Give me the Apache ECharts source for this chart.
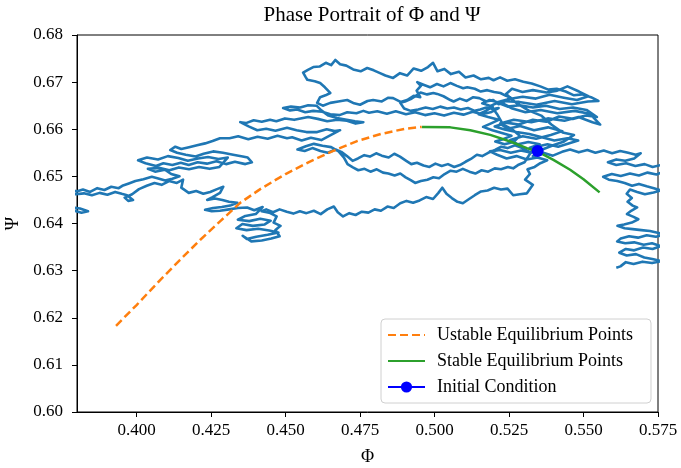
<!DOCTYPE html>
<html><head><meta charset="utf-8">
<script src="https://cdn.jsdelivr.net/npm/echarts@6/dist/echarts.min.js"></script>
<style>html,body{margin:0;padding:0;background:#fff}#c{width:681px;height:468px}</style>
</head><body><div id="c"></div>
<script>
const xTicks = [0.400, 0.425, 0.450, 0.475, 0.500, 0.525, 0.550, 0.575];
const yTicks = [0.60, 0.61, 0.62, 0.63, 0.64, 0.65, 0.66, 0.67, 0.68];
const unstablePhi = [0.3931,0.4000,0.4079,0.4146,0.4213,0.4281,0.4348,0.4415,0.4500,0.4580,0.4660,0.4740,0.4820,0.4900,0.4957];
const unstablePsi = [0.6183,0.6227,0.6280,0.6323,0.6365,0.6405,0.6444,0.6473,0.6505,0.6531,0.6554,0.6575,0.6590,0.6601,0.6605];
const stablePhi = [0.4958,0.5053,0.5120,0.5187,0.5254,0.5310,0.5348,0.5399,0.5455,0.5500,0.5554];
const stablePsi = [0.6605,0.6604,0.6598,0.6588,0.6574,0.6560,0.6552,0.6535,0.6514,0.6494,0.6466];
const initPhi = 0.5346;
const initPsi = 0.6554;
// trajectory (Phi, Psi) in thousandths
const walkMilli = [
[534.6,655.4],[532.0,656.1],[535.3,656.8],[531.5,657.3],[528.0,656.8],[525.4,657.7],[529.6,658.5],[534.1,658.0],[539.0,658.8],[542.9,659.6],
[538.1,660.4],[533.4,659.8],[528.7,660.7],[524.6,660.1],[522.0,661.2],[526.6,662.0],[532.5,661.5],[538.0,662.3],[543.6,661.8],[548.3,662.6],
[553.0,661.5],[555.6,661.0],[552.1,663.3],[547.0,663.9],[541.2,663.4],[535.6,664.1],[530.5,663.6],[526.1,664.4],[523.4,665.3],[518.5,666.2],
[516.0,665.5],[519.5,664.8],[517.2,663.9],[514.8,663.2],[518.0,662.6],[521.5,662.0],[518.8,661.2],[516.3,660.5],[519.4,659.8],[522.6,659.2],
[525.8,658.6],[523.0,657.9],[520.4,657.4],[523.5,656.8],[526.5,657.3],[528.6,658.6],[526.0,660.0],[523.0,661.0],[521.0,663.2],[519.0,665.0],
[522.5,666.0],[528.4,665.8],[534.2,665.2],[540.3,666.0],[546.1,665.3],[551.5,665.9],[555.0,666.0],[552.5,666.8],[549.5,667.4],[546.8,667.2],
[544.0,668.0],[541.0,668.6],[538.2,668.4],[535.5,669.1],[532.6,669.7],[529.8,670.1],[527.0,670.6],[524.4,670.3],[522.0,671.0],[519.8,670.4],
[518.2,670.9],[515.6,670.6],[513.1,671.4],[510.4,671.0],[508.2,672.2],[505.5,671.7],[503.3,672.8],[501.0,672.3],[499.5,674.1],[497.8,673.2],
[495.5,672.4],[493.0,672.9],[490.8,671.4],[488.4,671.9],[486.1,670.9],[483.5,671.4],[481.7,671.9],[479.6,672.5],[477.4,673.0],[475.2,672.3],
[472.7,672.7],[470.4,673.5],[468.3,673.8],[466.7,674.7],[465.3,673.6],[463.5,674.1],[461.4,673.3],[459.3,673.2],[457.5,672.6],[455.9,672.0],
[456.8,671.0],[457.3,670.5],[459.8,670.2],[461.6,669.8],[463.2,668.9],[465.0,667.7],[463.4,667.2],[461.6,666.8],[460.6,665.6],[462.5,665.0],
[465.0,665.6],[467.7,665.9],[470.7,666.2],[473.0,665.5],[475.0,665.2],[477.5,666.0],[479.4,666.2],[482.3,665.9],[484.5,666.7],[486.1,666.6],
[488.6,665.8],[490.8,666.2],[493.0,667.1],[495.2,666.8],[494.0,668.2],[495.4,669.2],[494.2,670.0],[496.5,669.4],[498.5,668.9],[500.8,669.6],
[503.0,669.1],[505.3,669.8],[507.5,669.2],[509.6,668.7],[511.0,668.9],[513.5,668.6],[515.5,668.0],[517.7,668.3],[520.0,667.9],[522.1,667.7],
[524.0,667.1],[525.4,666.8],[523.8,666.0],[521.5,665.3],[519.7,666.2],[517.4,665.9],[515.0,666.6],[513.0,666.8],[510.8,666.0],[508.5,666.5],
[506.4,665.9],[505.3,666.2],[503.0,667.0],[500.9,667.5],[499.6,667.7],[497.5,667.4],[495.3,667.8],[494.2,667.3],[492.0,666.4],[490.1,665.9],
[488.5,665.6],[489.8,664.4],[492.0,663.9],[494.5,664.2],[497.0,664.6],[499.4,664.3],[501.9,664.8],[504.3,664.4],[506.5,664.6],[508.8,664.2],
[511.2,664.5],[513.5,663.9],[515.3,664.2],[517.4,664.6],[519.6,664.3],[521.5,664.5],[518.8,663.6],[515.9,663.2],[512.8,663.7],[509.7,663.1],
[506.5,663.5],[503.2,662.9],[500.0,663.4],[496.8,663.0],[493.5,663.6],[490.4,663.2],[487.0,663.8],[484.0,663.3],[480.8,663.8],[478.0,663.5],
[476.1,663.9],[473.8,663.4],[470.7,663.6],[468.1,663.0],[465.0,663.2],[462.3,663.7],[459.3,663.9],[456.6,663.6],[453.9,664.2],[451.5,664.0],
[449.2,664.5],[451.8,664.8],[454.9,664.6],[457.6,665.1],[460.4,665.0],[462.0,664.0],[464.4,662.9],[467.2,662.4],[470.5,662.0],[473.3,661.7],
[476.1,661.5],[473.5,661.2],[470.6,661.8],[467.3,662.0],[464.0,661.7],[460.8,662.2],[457.6,662.6],[455.9,662.4],[452.9,662.0],[449.8,662.3],
[446.9,661.7],[444.8,662.0],[442.0,661.6],[439.3,661.9],[436.7,661.3],[434.8,661.5],[437.6,660.6],[440.5,659.8],[443.5,660.1],[446.6,659.7],
[450.5,660.3],[453.7,659.8],[457.0,659.4],[460.6,659.4],[463.8,660.0],[466.5,659.6],[468.3,659.8],[465.6,658.9],[462.0,657.7],[458.5,658.2],
[455.4,657.6],[452.2,658.3],[450.5,658.1],[447.3,658.6],[444.0,658.0],[440.6,658.4],[437.5,657.9],[434.1,658.5],[431.2,658.1],[428.0,658.1],
[425.5,657.5],[423.0,657.0],[420.3,656.6],[417.6,656.2],[415.0,655.8],[413.0,656.3],[411.3,655.6],[413.6,655.0],[416.5,654.6],[419.8,654.2],
[422.5,654.8],[425.7,655.3],[429.0,655.0],[432.4,654.6],[435.6,654.2],[437.3,654.0],[438.7,653.0],[436.5,652.6],[433.0,653.1],[430.0,652.6],
[426.8,653.2],[423.6,652.7],[420.5,653.0],[417.5,652.4],[414.8,652.9],[412.0,652.4],[409.0,652.8],[406.5,652.2],[403.0,652.8],[400.5,653.4],
[403.5,654.0],[407.2,653.6],[410.5,654.3],[414.0,653.9],[417.2,653.3],[420.6,653.8],[424.0,654.1],[427.5,653.7],[430.6,654.0],[427.8,652.0],
[424.5,651.6],[421.0,652.0],[417.6,651.5],[414.2,651.9],[411.0,651.3],[407.8,651.8],[403.8,651.6],[406.2,651.0],
[409.5,651.4],[411.6,650.5],[414.4,650.0],[412.0,649.5],[409.6,649.1],[407.0,649.6],[405.1,649.9],[402.3,649.4],[399.6,649.0],[397.4,648.5],
[395.2,648.0],[394.0,647.5],[391.5,647.8],[389.2,647.1],[386.8,647.5],[384.4,646.7],[382.0,647.2],[379.8,646.8],[377.5,647.3],[376.0,645.5],
[378.5,642.8],[381.5,642.3],[383.7,642.6],[381.0,643.2],[377.0,643.5],[375.5,645.5],[378.0,646.4],[379.6,646.2],[382.3,646.4],[385.0,646.0],
[387.6,646.5],[390.2,646.1],[392.8,646.7],[395.0,646.3],[396.8,646.0],[398.8,645.0],[397.2,644.8],[396.0,645.5],[398.5,646.2],[400.8,647.3],
[403.4,648.0],[406.0,648.6],[408.4,648.2],[410.9,649.0],[413.5,648.6],[415.6,649.3],[415.0,647.6],[417.5,646.5],[420.0,646.9],[422.4,646.3],
[424.7,646.7],[427.0,647.3],[429.1,647.8],[428.0,646.5],[425.5,645.6],[423.7,645.0],[426.3,645.3],[428.8,645.0],[431.0,644.6],[433.8,644.4],
[431.4,643.8],[428.6,643.5],[425.7,643.3],[423.0,642.9],[425.2,642.6],[428.0,642.7],[431.0,643.0],[434.0,643.3],[437.1,643.4],[439.5,642.8],
[442.3,643.5],[440.0,642.0],[436.5,641.6],[434.0,640.8],[437.8,640.5],[441.5,641.0],[445.0,640.6],[443.0,639.8],[439.0,639.5],[435.5,639.9],
[433.5,639.0],[436.9,638.6],[440.8,638.9],[444.5,638.5],[447.6,638.1],[444.0,637.6],[440.2,637.2],[437.0,636.7],[435.6,637.4],[438.5,636.2],
[442.0,636.4],[445.2,636.8],[448.0,637.3],[446.6,638.6],[448.3,639.5],[446.0,640.2],[447.0,641.5],[444.5,642.3],[442.0,642.6],[443.5,643.0],
[445.8,642.4],[448.0,643.0],[450.4,642.5],[452.6,642.1],[454.8,642.6],[457.0,642.2],[459.5,642.7],[461.8,642.0],[464.0,643.0],[466.2,643.6],
[467.5,642.4],[469.3,641.5],[471.4,642.2],[473.5,641.8],[475.6,642.5],[477.8,642.3],[479.9,643.0],[482.0,642.7],[484.2,643.6],[486.3,643.3],
[488.5,644.3],[490.6,644.8],[492.8,644.4],[495.0,644.9],[497.2,645.6],[499.5,645.2],[501.3,646.5],[502.6,647.6],[504.0,646.3],[505.8,645.4],
[507.7,644.6],[509.5,644.3],[511.6,645.2],[513.5,646.0],[515.6,646.8],[517.8,647.0],[520.0,647.6],[522.3,647.2],[524.5,647.4],[526.4,646.0],
[528.6,646.2],[531.0,646.4],[533.0,648.2],[530.4,649.3],[532.0,650.5],[531.2,651.5],[533.6,652.0],[535.5,652.8],[537.8,653.4],[534.5,654.0],
[531.0,653.6],[527.5,654.3],[524.2,653.8],[521.0,654.6],[518.6,655.3],[522.0,655.6],[525.6,655.0],[529.0,655.5],[532.5,655.0],[529.5,656.0],
[527.0,656.6],[524.5,656.0],[522.4,656.3],[520.3,655.6],[518.0,655.0],[516.0,654.3],[514.2,654.6],[512.2,653.7],[510.4,653.1],[508.5,652.4],
[506.6,652.0],[504.5,652.6],[502.4,652.2],[500.3,652.7],[498.3,652.0],[496.3,652.3],[494.1,652.9],[492.2,652.6],[490.5,653.3],[488.4,654.2],
[486.5,654.8],[484.6,654.0],[482.3,654.4],[480.4,654.9],[478.3,654.2],[476.4,654.5],[474.3,653.8],[472.5,653.3],[470.6,654.3],[468.7,655.2],
[466.8,655.7],[464.2,655.0],[461.7,655.4],[459.0,656.0],[456.4,655.4],[454.0,655.7],[456.8,656.4],[459.5,656.9],[462.4,656.5],[465.3,656.2],
[467.8,655.3],[469.6,654.0],[470.8,652.6],[472.6,651.9],[474.4,651.3],[476.5,651.6],[478.5,651.0],[480.6,651.5],[482.7,650.8],[484.5,650.6],
[486.6,650.2],[488.5,650.6],[490.3,649.8],[492.0,649.2],[493.5,648.6],[495.4,649.0],[497.6,649.3],[499.6,649.8],[501.5,649.6],[503.4,650.5],
[505.4,651.2],[507.4,651.0],[509.5,651.6],[511.7,651.0],[513.7,650.6],[515.8,651.3],[518.0,651.0],[520.2,651.7],[522.3,651.5],[524.6,652.0],
[526.4,651.7],[528.0,652.4],[530.2,653.0],[533.5,656.2],[537.9,656.8],[541.5,656.3],[545.0,657.0],[548.2,657.6],[544.6,658.1],[540.2,657.6],
[536.0,658.3],[531.8,659.0],[527.5,659.4],[523.8,659.9],[520.2,660.6],[524.0,661.4],[528.2,661.0],[533.0,662.0],[537.5,661.6],[541.8,662.7],
[546.4,662.2],[550.8,662.9],[554.5,662.6],[551.0,664.1],[546.5,664.6],[542.0,664.3],[537.4,665.0],[533.0,664.6],[528.6,665.1],[524.5,664.8],
[520.8,665.7],[525.0,666.4],[529.6,666.9],[534.0,666.5],[538.6,667.3],[543.4,666.7],[547.8,666.2],[551.6,667.0],[548.5,668.0],[544.6,669.1],
[541.2,668.2],[537.6,667.8],[533.0,668.3],[529.5,667.9],[526.0,668.6],[524.0,667.5],[527.4,665.6],[531.5,664.0],[535.8,662.9],[539.2,661.0],
[543.0,659.3],[546.8,658.8],[543.5,657.4],[539.8,656.6],[536.2,655.7],[533.0,654.3],
[536.5,655.0],[539.7,654.4],[542.8,655.2],[545.5,655.7],[548.4,655.1],[551.3,655.6],
[554.0,655.0],[556.8,655.5],[559.6,654.9],[562.3,655.4],[565.0,655.0],[567.5,654.6],[569.2,654.9],[567.0,653.8],[564.0,653.3],[561.0,653.6],
[558.2,653.0],[561.0,652.4],[564.3,652.8],[567.4,652.2],[570.5,652.6],[573.2,652.0],[576.0,652.4],[577.0,651.0],[574.5,650.4],[571.5,650.8],
[568.6,650.2],[565.6,650.6],[562.5,650.1],[559.5,650.5],[556.6,649.9],[558.5,649.3],[561.3,649.0],[563.8,648.6],[566.3,648.0],[568.6,648.4],
[571.2,647.9],[573.6,647.5],[576.0,647.0],[573.5,646.6],[570.6,646.2],[568.0,646.7],[565.6,647.2],[564.5,646.3],[566.2,645.4],[564.8,644.6],
[566.5,643.8],[568.0,643.4],[566.0,642.7],[564.6,642.0],[566.8,641.4],[568.4,640.9],[566.2,640.2],[563.6,639.8],[561.4,639.5],[563.8,639.0],
[566.5,638.8],[569.4,638.6],[572.3,638.4],[575.2,638.0],[577.0,637.6],[574.3,637.2],[571.2,637.5],[568.3,637.0],[565.3,637.3],[562.5,636.8],
[561.3,636.2],[564.0,635.8],[567.0,636.0],[570.2,635.5],[573.0,635.8],[576.0,635.2],[573.2,634.6],[570.0,634.9],[567.0,634.3],[564.2,634.6],
[562.0,633.8],[564.5,633.2],[567.6,633.5],[570.4,632.8],[573.5,632.4],[576.0,632.0],[573.0,631.6],[569.8,631.9],[566.8,631.4],[564.2,631.8],
[562.4,630.9],[561.0,630.6]
];
const walk = walkMilli.map(p => [p[0] / 1000, p[1] / 1000]);
const zip = (a, b) => a.map((v, i) => [v, b[i]]);

const FONT = 'Liberation Serif';
const chart = echarts.init(document.getElementById('c'), null, {renderer: 'canvas'});
chart.setOption({
  animation: false,
  backgroundColor: '#fff',
  title: {
    text: 'Phase Portrait of Φ and Ψ',
    left: 367, top: 0, textAlign: 'center',
    textStyle: {fontFamily: FONT, fontSize: 21, fontWeight: 'normal', color: '#000'}
  },
  grid: {left: 77, right: 23, top: 35, bottom: 56, outerBoundsMode: 'none', containLabel: false,
         show: true, borderColor: '#000', borderWidth: 1, backgroundColor: 'transparent'},
  legend: {
    data: [
      {name: 'Ustable Equilibrium Points', itemStyle: {opacity: 0}},
      {name: 'Stable Equilibrium Points', itemStyle: {opacity: 0}},
      {name: 'Initial Condition'}
    ],
    orient: 'vertical', left: 381, top: 319,
    itemWidth: 37, itemHeight: 14, itemGap: 8,
    padding: [7, 18, 7, 6],
    backgroundColor: 'rgba(255,255,255,0.8)', borderColor: '#d0d0d0', borderWidth: 1, borderRadius: 4,
    selectedMode: false,
    textStyle: {fontFamily: FONT, fontSize: 18, color: '#000', padding: [0, 0, 0, 7]}
  },
  xAxis: {
    type: 'value', min: 0.38, max: 0.575,
    name: 'Φ', nameLocation: 'middle', nameGap: 36,
    nameTextStyle: {fontFamily: FONT, fontSize: 18, color: '#000'},
    axisLine: {show: true, lineStyle: {color: '#000', width: 1}},
    axisTick: {show: true, length: 5, lineStyle: {color: '#000'}, customValues: xTicks},
    axisLabel: {fontFamily: FONT, fontSize: 17, color: '#000', margin: 10, customValues: xTicks, formatter: v => v.toFixed(3)},
    splitLine: {show: false}
  },
  yAxis: {
    type: 'value', min: 0.60, max: 0.68,
    name: 'Ψ', nameLocation: 'middle', nameGap: 51, nameRotate: 90,
    nameTextStyle: {fontFamily: FONT, fontSize: 18, color: '#000'},
    axisLine: {show: true, lineStyle: {color: '#000', width: 1}},
    axisTick: {show: true, length: 5, lineStyle: {color: '#000'}, customValues: yTicks},
    axisLabel: {fontFamily: FONT, fontSize: 17, color: '#000', margin: 14, customValues: yTicks, formatter: v => v.toFixed(2)},
    splitLine: {show: false}
  },
  series: [
    {name: 'trajectory', type: 'line', data: walk, symbol: 'none', showSymbol: false, clip: true, silent: true,
     lineStyle: {color: '#1f77b4', width: 2.6, join: 'round'}, z: 1},
    {name: 'Ustable Equilibrium Points', type: 'line', data: zip(unstablePhi, unstablePsi), symbol: 'none', clip: true,
     lineStyle: {color: '#ff7f0e', width: 2.5, type: [8, 4]}, itemStyle: {color: '#ff7f0e', opacity: 0}, z: 2},
    {name: 'Stable Equilibrium Points', type: 'line', data: zip(stablePhi, stablePsi), symbol: 'none', clip: true,
     lineStyle: {color: '#2ca02c', width: 2.5}, itemStyle: {color: '#2ca02c', opacity: 0}, z: 3},
    {name: 'Initial Condition', type: 'line', data: [[initPhi, initPsi]], symbol: 'circle', symbolSize: 12, showSymbol: true,
     lineStyle: {color: '#0000ff', width: 2.5}, itemStyle: {color: '#0000ff'}, z: 4}
  ]
});
</script></body></html>
